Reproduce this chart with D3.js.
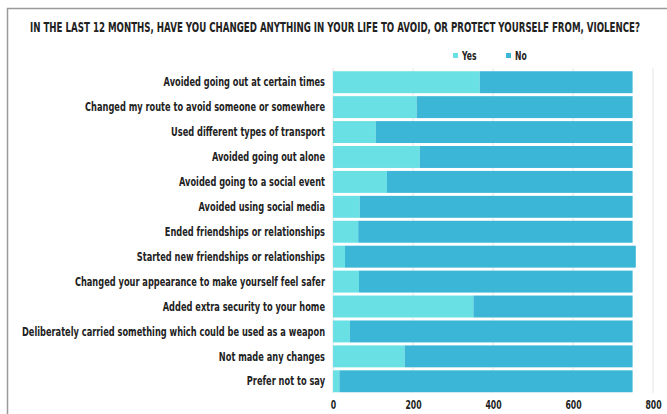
<!DOCTYPE html>
<html><head><meta charset="utf-8">
<script src="https://cdn.jsdelivr.net/npm/d3@7"></script>
<style>
html,body{margin:0;padding:0;background:#fff;}
text{font-family:"DejaVu Sans","Liberation Sans",sans-serif;font-weight:bold;fill:#222;}
</style></head>
<body><svg id="c" width="667" height="414"></svg>
<script>
const categories = [
  "Avoided going out at certain times",
  "Changed my route to avoid someone or somewhere",
  "Used different types of transport",
  "Avoided going out alone",
  "Avoided going to a social event",
  "Avoided using social media",
  "Ended friendships or relationships",
  "Started new friendships or relationships",
  "Changed your appearance to make yourself feel safer",
  "Added extra security to your home",
  "Deliberately carried something which could be used as a weapon",
  "Not made any changes",
  "Prefer not to say"
];
const yesValues = [367, 209, 107, 217, 135, 67, 63, 30, 65, 351, 42, 179, 16];
const noValues  = [382, 540, 642, 532, 614, 682, 686, 727, 684, 398, 707, 570, 733];
const xTicks = [0, 200, 400, 600, 800];
const seriesNames = ["Yes", "No"];
const colors = ["#68e0e4", "#3bb6d6"];
const title = "IN THE LAST 12 MONTHS, HAVE YOU CHANGED ANYTHING IN YOUR LIFE TO AVOID, OR PROTECT YOURSELF FROM, VIOLENCE?";

const svg = d3.select("#c");

// horizontally condense a text around its own anchor x
function condense(sel, k) {
  sel.each(function() {
    const ax = +(this.getAttribute("x") || 0);
    d3.select(this).attr("transform", `translate(${ax},0) scale(${k},1) translate(${-ax},0)`);
  });
}

// frame
svg.append("path").attr("d","M7.5,414 L7.5,8.5 L667,8.5").attr("fill","none").attr("stroke","#9a9a9a").attr("stroke-width",1.5);

const x = d3.scaleLinear().domain([0, 800]).range([333, 653]);
const y = d3.scaleBand().domain(categories).range([70.5, 393]).paddingInner(0.12).paddingOuter(0.03);

// grid
svg.append("g").selectAll("line").data(xTicks).join("line")
  .attr("x1", d => x(d)).attr("x2", d => x(d)).attr("y1", 68).attr("y2", 393)
  .attr("stroke", "#e6e6e6").attr("stroke-width", 1);

const rows = categories.map((c, i) => ({c, yes: yesValues[i], no: noValues[i]}));
const stack = d3.stack().keys(["yes","no"])(rows);
svg.append("g").selectAll("g").data(stack).join("g")
  .attr("fill", (d, i) => colors[i])
  .selectAll("rect").data(d => d).join("rect")
  .attr("x", d => x(d[0])).attr("width", d => x(d[1]) - x(d[0]))
  .attr("y", d => y(d.data.c)).attr("height", y.bandwidth());

// category labels
const yAxis = svg.append("g").attr("transform", `translate(${x(0)},0)`)
  .call(d3.axisLeft(y).tickSize(0).tickPadding(8));
yAxis.select(".domain").remove();
yAxis.selectAll("text").style("font-size", "13px").attr("fill", "#222");
condense(yAxis.selectAll("text"), 0.635);

// x axis
const xAxis = svg.append("g").attr("transform", "translate(0,397)")
  .call(d3.axisBottom(x).tickValues(xTicks).tickSize(0).tickPadding(3));
xAxis.select(".domain").remove();
xAxis.selectAll("text").style("font-size", "12.5px").attr("fill", "#222");
condense(xAxis.selectAll("text"), 0.62);

// title
const t = svg.append("text").attr("x", 335).attr("y", 32).attr("text-anchor", "middle")
  .style("font-size", "14px").text(title);
const tw = t.node().getComputedTextLength();
condense(t, 611 / tw);

// legend
const leg = svg.append("g").selectAll("g").data(seriesNames).join("g")
  .attr("transform", (d, i) => `translate(${453 + i * 53},0)`);
leg.append("rect").attr("x", 0).attr("y", 53).attr("width", 5).attr("height", 5)
  .attr("fill", (d, i) => colors[i]);
const lt = leg.append("text").attr("x", 9).attr("y", 60.5).style("font-size", "12px").text(d => d);
condense(lt, 0.64);
</script></body></html>
